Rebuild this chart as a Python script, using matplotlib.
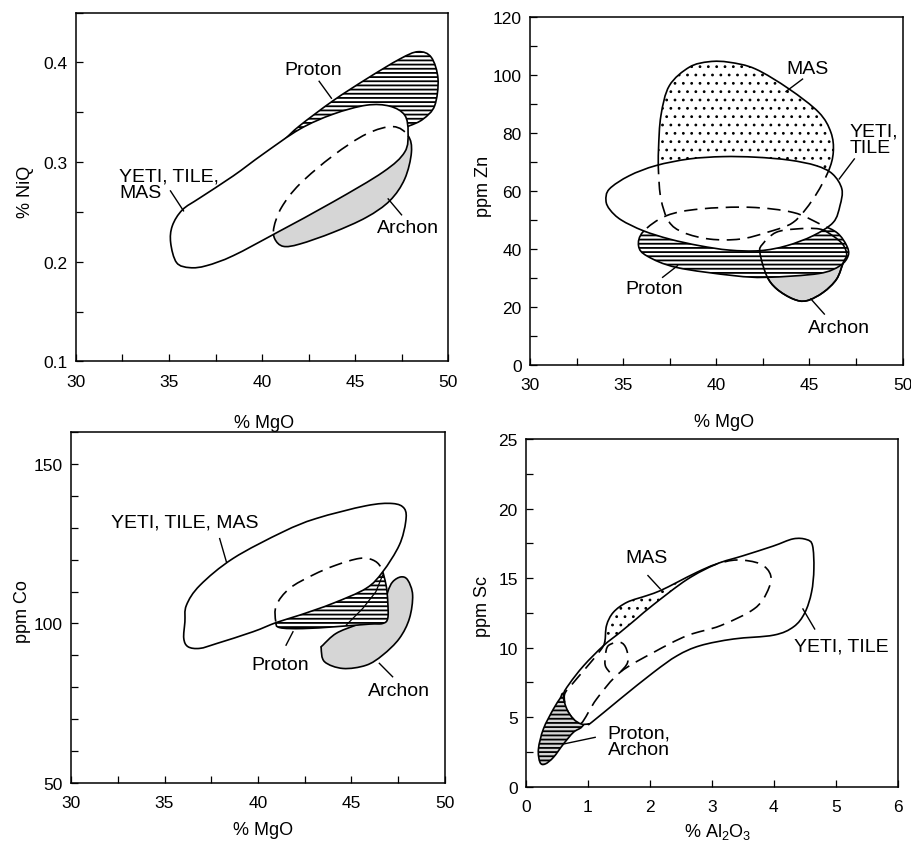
import numpy as np
import matplotlib
matplotlib.use('Agg')
import matplotlib.pyplot as plt
from matplotlib.path import Path
from matplotlib.patches import PathPatch
from matplotlib.ticker import MultipleLocator

plt.rcParams['font.family'] = ['Liberation Sans', 'DejaVu Sans']
plt.rcParams['hatch.linewidth'] = 1.3
plt.rcParams['hatch.color'] = 'black'

# ---------------- Panel 1: % NiO vs % MgO ----------------
p1_yeti_x = [35.09, 35.41, 36.12, 37.02, 38.45, 40.78, 43.82, 46.51, 47.67, 47.85, 47.67, 46.87, 45.61, 43.82, 42.03, 40.06, 38.45, 36.66, 35.72, 35.18]
p1_yeti_y = [0.219, 0.199, 0.194, 0.196, 0.206, 0.229, 0.260, 0.290, 0.310, 0.330, 0.347, 0.356, 0.357, 0.348, 0.333, 0.308, 0.286, 0.264, 0.252, 0.236]
p1_proton_x = [40.24, 41.14, 42.03, 43.82, 45.61, 47.40, 48.39, 49.10, 49.46, 49.28, 48.66, 47.94, 47.5, 45.6, 43.8, 42.0, 40.7]
p1_proton_y = [0.3064, 0.3214, 0.3365, 0.3615, 0.3833, 0.4033, 0.4107, 0.405, 0.3833, 0.3565, 0.3431, 0.3365, 0.335, 0.335, 0.325, 0.315, 0.303]
p1_archon_x = [47.85, 48.03, 47.67, 46.87, 45.61, 43.82, 42.03, 41.14, 40.69, 40.64, 41.05, 42.03, 43.82, 45.61, 47.05]
p1_archon_y = [0.3264, 0.3097, 0.283, 0.2612, 0.2445, 0.2294, 0.2177, 0.2154, 0.2227, 0.2344, 0.2545, 0.2779, 0.3064, 0.3281, 0.3355]

# ---------------- Panel 2: ppm Zn vs % MgO ----------------
p2_yeti_x = [34.08, 34.26, 35.33, 36.76, 38.55, 40.34, 42.13, 43.92, 45.35, 46.24, 46.74, 46.64, 46.28, 45.2, 43.77, 42.34, 40.7, 39.12, 37.5, 36.08, 34.9, 34.3]
p2_yeti_y = [56.7, 60.7, 65.3, 68.8, 71.1, 71.9, 71.7, 70.7, 68.8, 65.9, 60.7, 55.0, 49.2, 44.6, 41.1, 39.4, 39.6, 41.1, 43.4, 46.3, 50.0, 53.5]
p2_mas_x = [39.62, 38.55, 37.48, 37.03, 36.9, 36.9, 37.03, 37.45, 38.23, 39.66, 41.27, 42.7, 44.13, 45.2, 46.0, 46.28, 46.15, 45.5, 43.9, 42.1, 40.7]
p2_mas_y = [104.7, 102.8, 96.4, 86.1, 74.5, 66.5, 57.3, 49.5, 45.7, 43.4, 43.4, 45.7, 49.2, 57.3, 66.6, 73.5, 80.3, 87.2, 95.3, 102.2, 104.5]
p2_proton_x = [35.83, 36.08, 37.33, 39.12, 41.8, 44.13, 45.6, 46.5, 47.0, 47.08, 46.64, 45.5, 42.7, 40.91, 37.87, 36.3]
p2_proton_y = [41.0, 46.0, 51.5, 53.8, 54.4, 52.6, 48.5, 45.5, 41.1, 37.7, 34.2, 31.5, 30.2, 30.8, 33.6, 37.5]
p2_archon_x = [42.34, 42.49, 43.2, 44.28, 45.53, 46.24, 46.8, 47.0, 46.82, 46.46, 45.74, 44.85, 44.13, 43.24, 42.7]
p2_archon_y = [38.8, 41.7, 45.7, 46.9, 46.9, 44.6, 41.5, 38.0, 35.4, 29.6, 25.0, 22.1, 22.7, 26.2, 30.8]

# ---------------- Panel 3: ppm Co vs % MgO ----------------
p3_yeti_x = [36.09, 36.17, 36.9, 38.67, 41.33, 43.11, 45.78, 47.2, 47.83, 47.9, 47.56, 46.67, 45.78, 44.0, 42.22, 40.98, 39.73, 37.78, 36.89, 36.26, 36.03]
p3_yeti_y = [100.5, 105.7, 112, 120.4, 128.7, 132.9, 136.9, 137.6, 136, 131.9, 124.6, 116.2, 111, 106.3, 102.6, 100.3, 97.4, 93.7, 92.2, 92.7, 95.3]
p3_proton_x = [40.95, 40.98, 41.69, 42.94, 44.18, 45.43, 46.14, 46.58, 46.85, 46.94, 46.94, 46.67, 45.96, 44.18, 42.4, 41.16]
p3_proton_y = [100.6, 105.7, 111, 115.2, 118.3, 120.4, 119.9, 117.5, 112, 106.8, 101.6, 100, 99.8, 99.0, 98.4, 98.7]
p3_archon_x = [43.47, 44.18, 45.25, 46.32, 46.76, 46.94, 47.21, 47.65, 48.01, 48.27, 48.1, 47.56, 46.67, 45.78, 44.54, 43.56, 43.38]
p3_archon_y = [93.2, 96.9, 99.5, 101.6, 104.7, 109.9, 113.1, 114.6, 113.6, 108.9, 101.6, 95.3, 90.1, 86.9, 85.9, 88.0, 92.2]
p3_inner_x = [44.72, 45.6, 46.3, 46.67]
p3_inner_y = [99.5, 104.7, 109.9, 115.2]

# ---------------- Panel 4: ppm Sc vs % Al2O3 ----------------
p4_yeti_x = [0.604, 0.658, 0.765, 0.89, 0.997, 1.06, 1.52, 2.06, 2.44, 2.81, 3.35, 4.0, 4.32, 4.5, 4.609, 4.647, 4.625, 4.528, 4.313, 3.989, 3.5, 3.07, 2.6, 2.06, 1.79, 1.52, 1.25, 0.93, 0.70]
p4_yeti_y = [6.6, 5.59, 4.87, 4.51, 4.51, 4.63, 6.31, 8.23, 9.42, 10.14, 10.62, 10.9, 11.5, 12.5, 13.98, 15.66, 17.34, 17.77, 17.82, 17.3, 16.6, 16.0, 14.9, 13.1, 12.1, 11.1, 10.14, 8.7, 7.4]
p4_mas_x = [0.89, 1.14, 1.52, 2.06, 2.6, 3.14, 3.68, 3.89, 3.95, 3.78, 3.41, 3.07, 2.76, 2.44, 2.17, 1.95, 1.63, 1.41, 1.30, 1.27, 1.2, 0.96, 0.74, 0.62, 0.658, 0.765]
p4_mas_y = [4.55, 6.31, 8.23, 9.66, 10.86, 11.58, 12.78, 13.98, 15.18, 16.02, 16.3, 16.0, 15.42, 14.7, 14.1, 13.74, 13.26, 12.54, 11.6, 10.4, 9.8, 8.5, 7.35, 6.6, 5.59, 4.87]
p4_pa_x = [0.604, 0.75, 0.95, 0.9, 0.765, 0.604, 0.442, 0.307, 0.226, 0.20, 0.28, 0.442, 0.55]
p4_pa_y = [6.7, 6.0, 4.9, 4.3, 3.91, 3.07, 2.11, 1.63, 1.75, 2.71, 4.15, 5.59, 6.35]
p4_loop_x = [1.35, 1.28, 1.28, 1.33, 1.52, 1.62, 1.64, 1.52]
p4_loop_y = [8.23, 8.7, 9.42, 10.15, 10.38, 9.9, 8.94, 8.23]

GRAY = '#d6d6d6'
DASH = (0, (8, 4.5))
LW = 1.2


def smooth(xs, ys, closed=True):
    pts = np.column_stack([xs, ys]).astype(float)
    n = len(pts)
    verts = [pts[0]]
    codes = [Path.MOVETO]
    segs = range(n) if closed else range(n - 1)
    for i in segs:
        if closed:
            p0, p1, p2, p3 = pts[(i - 1) % n], pts[i], pts[(i + 1) % n], pts[(i + 2) % n]
        else:
            p0 = pts[i - 1] if i > 0 else pts[i]
            p1, p2 = pts[i], pts[i + 1]
            p3 = pts[i + 2] if i + 2 < n else pts[i + 1]
        c1 = p1 + (p2 - p0) / 6.0
        c2 = p2 - (p3 - p1) / 6.0
        verts += [c1, c2, p2]
        codes += [Path.CURVE4] * 3
    if closed:
        verts.append(pts[0])
        codes.append(Path.CLOSEPOLY)
    return Path(np.array(verts), codes)


def region(ax, xs, ys, face='white', hatch=None, z=1, ls='-', closed=True, clip=None, hlw=1.3):
    plt.rcParams['hatch.linewidth'] = hlw
    fc = face if face is not None else 'none'
    p = PathPatch(smooth(xs, ys, closed), facecolor=fc, edgecolor='black',
                  hatch=hatch, lw=LW, ls=ls, zorder=z, fill=face is not None)
    if hasattr(p, 'set_hatch_linewidth'):
        p.set_hatch_linewidth(hlw)
    ax.add_patch(p)
    if clip is not None:
        p.set_clip_path(clip)
    return p


def leader(ax, xs, ys):
    ax.plot(xs, ys, color='black', lw=1.0, zorder=10)


def style(ax, xlim, ylim, xmaj, xmin, ymaj, ymin):
    ax.set_xlim(*xlim)
    ax.set_ylim(*ylim)
    ax.xaxis.set_major_locator(MultipleLocator(xmaj))
    ax.yaxis.set_major_locator(MultipleLocator(ymaj))
    if xmin:
        ax.xaxis.set_minor_locator(MultipleLocator(xmin))
    if ymin:
        ax.yaxis.set_minor_locator(MultipleLocator(ymin))
    ax.tick_params(which='both', direction='in', length=5, width=0.9,
                   top=False, right=False)
    ax.tick_params(axis='x', labelsize=12.5, pad=9)
    ax.tick_params(axis='y', labelsize=12.5, pad=6)
    for s in ax.spines.values():
        s.set_linewidth(1.1)
    ax.patch.set_visible(False)


fig = plt.figure(figsize=(9.12, 8.45), dpi=100)
AF = 14

# ---- Panel 1
ax1 = fig.add_axes([0.0833, 0.5712, 0.408, 0.4128])
style(ax1, (30, 50), (0.1, 0.45), 5, 2.5, 0.1, 0.05)
ax1.set_yticks([0.1, 0.2, 0.3, 0.4])
region(ax1, p1_proton_x, p1_proton_y, face='white', hatch='----', z=2)
region(ax1, p1_archon_x, p1_archon_y, face=GRAY, z=3)
y1 = region(ax1, p1_yeti_x, p1_yeti_y, face='white', z=4)
region(ax1, p1_archon_x, p1_archon_y, face=None, ls=DASH, z=5, clip=y1)
ax1.text(42.75, 0.393, 'Proton', fontsize=AF, ha='center', va='center')
leader(ax1, [43.07, 43.73], [0.381, 0.364])
ax1.text(32.33, 0.2773, 'YETI, TILE,\nMAS', fontsize=AF, ha='left', va='center', linespacing=0.95)
leader(ax1, [35.08, 35.78], [0.271, 0.251])
ax1.text(47.85, 0.2345, 'Archon', fontsize=AF, ha='center', va='center')
leader(ax1, [46.78, 47.5], [0.263, 0.247])
ax1.set_xlabel('% MgO', fontsize=13)
ax1.set_ylabel('% NiQ', fontsize=13)
ax1.xaxis.set_label_coords(0.505, -0.151)
ax1.yaxis.set_label_coords(-0.114, 0.49)
ax1.set_xticks([30, 35, 40, 45, 50])

# ---- Panel 2
ax2 = fig.add_axes([0.5811, 0.5672, 0.4086, 0.411])
style(ax2, (30, 50), (0, 120), 5, 2.5, 20, 10)
region(ax2, p2_mas_x, p2_mas_y, face='white', hatch='..', z=1, hlw=0.8)
region(ax2, p2_archon_x, p2_archon_y, face=GRAY, z=2)
region(ax2, p2_proton_x, p2_proton_y, face='white', hatch='----', z=3)
region(ax2, p2_archon_x, p2_archon_y, face=None, z=3.5)
y2 = region(ax2, p2_yeti_x, p2_yeti_y, face='white', z=4)
for xs, ys in [(p2_mas_x, p2_mas_y), (p2_proton_x, p2_proton_y), (p2_archon_x, p2_archon_y)]:
    region(ax2, xs, ys, face=None, ls=DASH, z=5, clip=y2)
ax2.text(44.9, 102.2, 'MAS', fontsize=AF, ha='center', va='center')
leader(ax2, [44.63, 43.74], [98.7, 94.4])
ax2.text(47.14, 78.0, 'YETI,\nTILE', fontsize=AF, ha='left', va='center', linespacing=0.95)
leader(ax2, [47.41, 46.6], [71.1, 64.2])
ax2.text(36.67, 26.4, 'Proton', fontsize=AF, ha='center', va='center')
leader(ax2, [37.12, 37.92], [30.2, 34.2])
ax2.text(46.57, 12.9, 'Archon', fontsize=AF, ha='center', va='center')
leader(ax2, [45.8, 45.08], [17.5, 22.7])
ax2.set_xlabel('% MgO', fontsize=13)
ax2.set_ylabel('ppm Zn', fontsize=13)
ax2.xaxis.set_label_coords(0.52, -0.139)
ax2.yaxis.set_label_coords(-0.101, 0.516)

# ---- Panel 3
ax3 = fig.add_axes([0.0779, 0.0722, 0.410, 0.4153])
style(ax3, (30, 50), (50, 160), 5, 2.5, 50, 10)
region(ax3, p3_archon_x, p3_archon_y, face=GRAY, z=2)
region(ax3, p3_proton_x, p3_proton_y, face='white', hatch='----', z=3)
ax3.plot(p3_inner_x, p3_inner_y, color='black', lw=0.9, zorder=3.5)
y3 = region(ax3, p3_yeti_x, p3_yeti_y, face='white', z=4)
region(ax3, p3_proton_x, p3_proton_y, face=None, ls=DASH, z=5, clip=y3)
ax3.text(36.09, 131.7, 'YETI, TILE, MAS', fontsize=AF, ha='center', va='center')
leader(ax3, [37.95, 38.31], [126.6, 119.3])
ax3.text(41.16, 87.1, 'Proton', fontsize=AF, ha='center', va='center')
leader(ax3, [41.5, 41.87], [93.2, 97.4])
ax3.text(47.56, 79.1, 'Archon', fontsize=AF, ha='center', va='center')
leader(ax3, [46.49, 47.2], [87.5, 83.3])
ax3.set_xlabel('% MgO', fontsize=13)
ax3.set_ylabel('ppm Co', fontsize=13)
ax3.xaxis.set_label_coords(0.513, -0.108)
ax3.yaxis.set_label_coords(-0.107, 0.49)

# ---- Panel 4
ax4 = fig.add_axes([0.5768, 0.0678, 0.4075, 0.4115])
style(ax4, (0, 6), (0, 25), 1, None, 5, 2.5)
region(ax4, p4_mas_x, p4_mas_y, face='white', hatch='..', z=1, hlw=0.8)
region(ax4, p4_pa_x, p4_pa_y, face=GRAY, hatch='----', z=2)
y4 = region(ax4, p4_yeti_x, p4_yeti_y, face='white', z=4)
region(ax4, p4_mas_x, p4_mas_y, face=None, ls=DASH, z=5, clip=y4)
region(ax4, p4_loop_x, p4_loop_y, face=None, ls=DASH, z=5, closed=False)
ax4.text(1.94, 16.5, 'MAS', fontsize=AF, ha='center', va='center')
leader(ax4, [1.968, 2.167], [15.18, 14.22])
ax4.text(5.09, 10.14, 'YETI, TILE', fontsize=AF, ha='center', va='center')
leader(ax4, [4.66, 4.47], [11.34, 12.78])
ax4.text(1.32, 3.26, 'Proton,\nArchon', fontsize=AF, ha='left', va='center', linespacing=0.95)
leader(ax4, [1.116, 0.604], [3.55, 3.07])
ax4.set_xlabel(r'% Al$_\mathregular{2}$O$_\mathregular{3}$', fontsize=13)
ax4.set_ylabel('ppm Sc', fontsize=13)
ax4.xaxis.set_label_coords(0.515, -0.098)
ax4.yaxis.set_label_coords(-0.093, 0.52)

fig.savefig('out.png', dpi=100)
